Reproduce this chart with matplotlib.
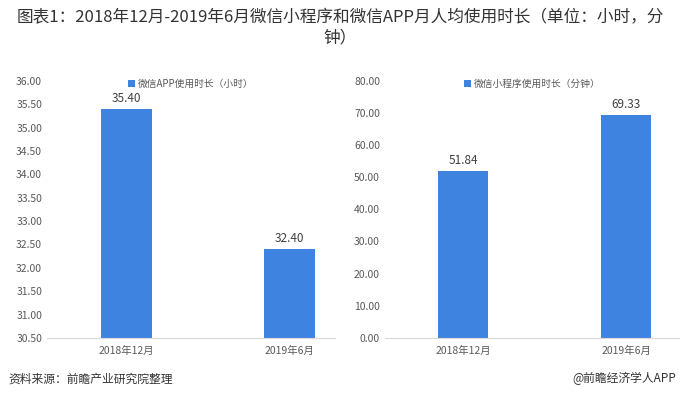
import matplotlib.pyplot as plt

plt.rcParams['font.family'] = ['Noto Sans CJK SC', 'DejaVu Sans']

categories = ["2018年12月", "2019年6月"]
app_hours = [35.40, 32.40]
mini_minutes = [51.84, 69.33]
left_ticks = [30.5, 31.0, 31.5, 32.0, 32.5, 33.0, 33.5, 34.0, 34.5, 35.0, 35.5, 36.0]
right_ticks = [0, 10, 20, 30, 40, 50, 60, 70, 80]

BAR = '#3F83E0'
TXT = '#595959'

fig = plt.figure(figsize=(6.8, 3.98), dpi=100)

fig.text(0.5, 0.955, "图表1：2018年12月-2019年6月微信小程序和微信APP月人均使用时长（单位：小时，分",
         ha='center', va='center', fontsize=12, color='#333333')
fig.text(0.5, 0.905, "钟）", ha='center', va='center', fontsize=12, color='#333333')


def draw(ax, values, ticks, label, xlim):
    x = range(len(values))
    bars = ax.bar(x, values, width=0.31, color=BAR, label=label, zorder=2)
    ax.set_ylim(ticks[0], ticks[-1])
    ax.set_yticks(ticks)
    ax.set_yticklabels([f"{t:.2f}" for t in ticks])
    ax.set_xticks(list(x))
    ax.set_xticklabels(categories)
    ax.set_xlim(*xlim)
    for b, v in zip(bars, values):
        ax.text(b.get_x() + b.get_width() / 2, v + (ticks[-1] - ticks[0]) * 0.015,
                f"{v:.2f}", ha='center', va='bottom', fontsize=8.5, color='#404040')
    for s in ['top', 'right', 'left']:
        ax.spines[s].set_visible(False)
    ax.spines['bottom'].set_color('#d9d9d9')
    ax.tick_params(axis='both', length=0, labelsize=7.5, colors=TXT)
    ax.tick_params(axis='x', pad=6)
    ax.legend(loc='upper center', bbox_to_anchor=(0.5, 1.04), frameon=False,
              fontsize=7, handlelength=0.7, handleheight=0.7, labelcolor=TXT,
              handletextpad=0.3)


ax1 = fig.add_axes([0.069, 0.151, 0.424, 0.646])
draw(ax1, app_hours, left_ticks, "微信APP使用时长（小时）", (-0.49, 1.28))

ax2 = fig.add_axes([0.566, 0.151, 0.434, 0.646])
draw(ax2, mini_minutes, right_ticks, "微信小程序使用时长（分钟）", (-0.48, 1.33))

fig.text(0.012, 0.048, "资料来源：前瞻产业研究院整理", ha='left', va='center',
         fontsize=8.5, color='#333333', style='italic')
fig.text(0.995, 0.048, "@前瞻经济学人APP", ha='right', va='center',
         fontsize=8.5, color='#333333')

fig.savefig("out.png", dpi=100)
